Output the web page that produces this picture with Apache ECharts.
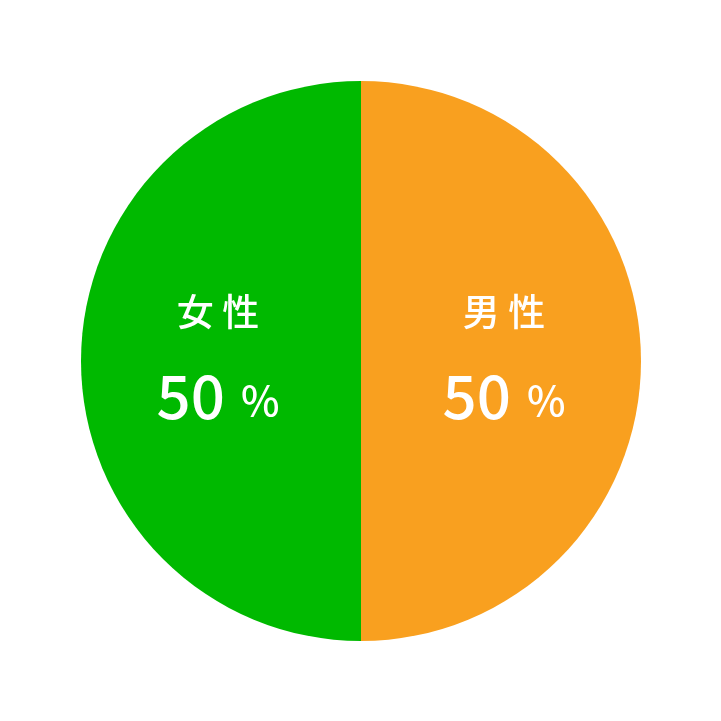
<!DOCTYPE html>
<html>
<head>
<meta charset="utf-8">
<script src="https://cdn.jsdelivr.net/npm/echarts@6/dist/echarts.min.js"></script>
<style>
    html, body { margin: 0; padding: 0; background: #fff; }
    #chart { width: 721px; height: 721px; }
</style>
</head>
<body>
<div id="chart"></div>
<script>
    const names = ['男 性', '女 性'];
    const values = [50, 50];
    const colors = ['#f9a01f', '#00b900'];

    const myChart = echarts.init(document.getElementById('chart'));

    const option = {
        animation: false,
        series: [
            {
                type: 'pie',
                center: [361, 361],
                radius: [0, 280],
                startAngle: 90,
                clockwise: true,
                silent: true,
                data: names.map((n, i) => ({
                    name: n,
                    value: values[i],
                    itemStyle: {color: colors[i]}
                })),
                label: {
                    position: 'inner',
                    formatter: p => '{name|' + p.name + '}\n{val|' + p.value + '}{pct|%}',
                    rich: {
                        name: {
                            fontFamily: 'Noto Sans CJK JP',
                            fontSize: 37,
                            fontWeight: 500,
                            color: '#fff',
                            lineHeight: 70,
                            align: 'center'
                        },
                        val: {
                            fontFamily: 'Noto Sans CJK JP',
                            fontSize: 60,
                            fontWeight: 500,
                            color: '#fff',
                            lineHeight: 98
                        },
                        pct: {
                            fontFamily: 'Noto Sans CJK JP',
                            fontSize: 41,
                            fontWeight: 500,
                            color: '#fff',
                            lineHeight: 98,
                            padding: [8, 0, 0, 16]
                        }
                    }
                },
                labelLine: {show: false}
            }
        ]
    };

    option && myChart.setOption(option);
</script>
</body>
</html>
